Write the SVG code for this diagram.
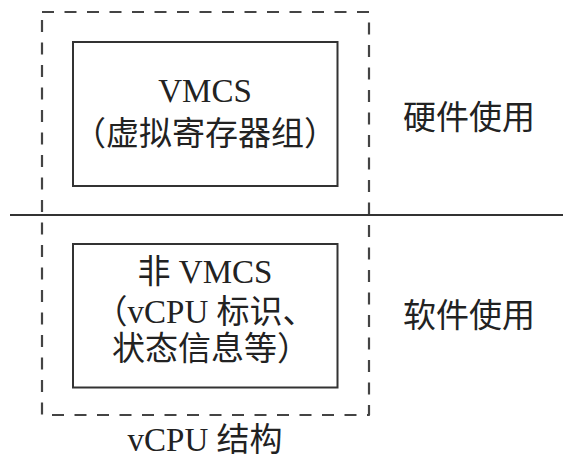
<svg xmlns="http://www.w3.org/2000/svg" width="574" height="473" viewBox="0 0 574 473">
<style>
.box{fill:none;stroke:#333;stroke-width:2}
.dash{fill:none;stroke:#444;stroke-width:2.2;stroke-dasharray:12 10.5;stroke-linejoin:round}
.sep{stroke:#333;stroke-width:2}
text{font-family:"Liberation Serif","Noto Sans CJK SC",serif;font-size:33px;fill:#222}
.c{text-anchor:middle}
</style>
<rect width="574" height="473" fill="#fff"/>
<g id="vcpu">
<rect class="dash" x="42" y="12" width="327" height="403"/>
<text class="c" x="205" y="451">vCPU 结构</text>
</g>
<g id="connectors">
<line class="sep" x1="10" y1="215" x2="563" y2="215"/>
</g>
<g id="vmcs">
<rect class="box" x="73" y="42" width="264.5" height="144"/>
<text class="c" x="205" y="102">VMCS</text>
<text class="c" x="205" y="145">（虚拟寄存器组）</text>
</g>
<g id="non-vmcs">
<rect class="box" x="73" y="244" width="264.5" height="143.5"/>
<text class="c" x="205" y="283">非 VMCS</text>
<text class="c" x="205" y="323">（vCPU 标识、</text>
<text class="c" x="211" y="360">状态信息等）</text>
</g>
<g id="hw-label">
<text x="403" y="128.5">硬件使用</text>
</g>
<g id="sw-label">
<text x="403" y="327">软件使用</text>
</g>
</svg>
